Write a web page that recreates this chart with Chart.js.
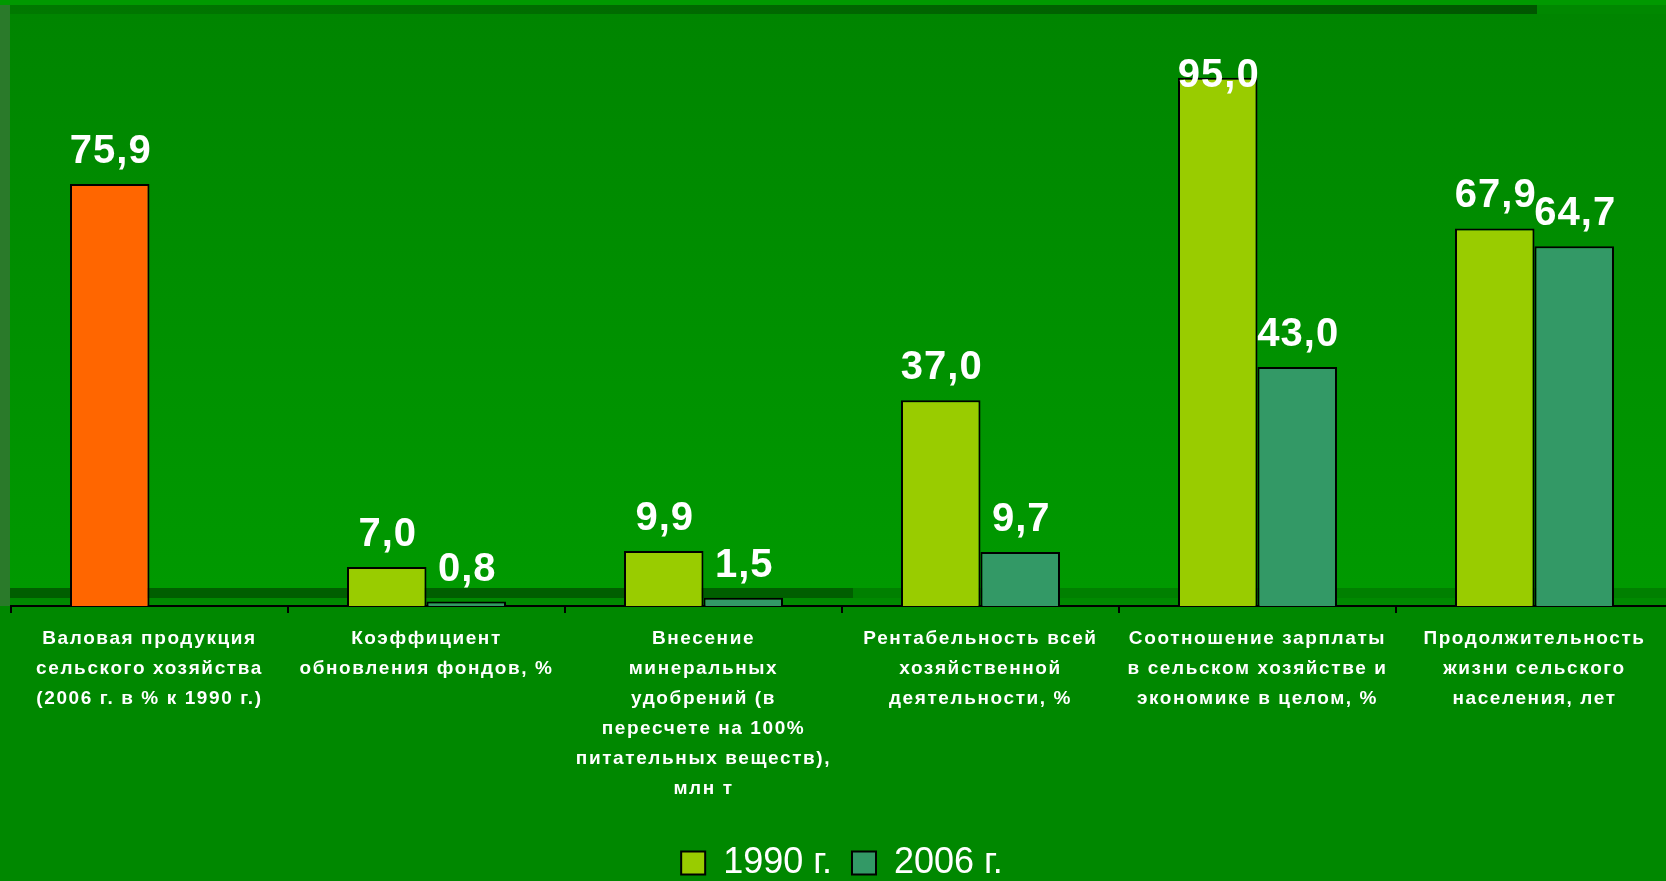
<!DOCTYPE html>
<html lang="ru">
<head>
    <meta charset="UTF-8">
    <title>Показатели сельского хозяйства</title>
    <script src="https://cdn.jsdelivr.net/npm/chart.js"></script>
    <style>
        html, body {
            margin: 0;
            padding: 0;
            width: 1666px;
            height: 881px;
            overflow: hidden;
            background: #008800;
            font-family: Arial, "Liberation Sans", sans-serif;
        }
        .deco { position: absolute; }
        #topStrip { left: 0; top: 0; width: 1666px; height: 5px; background: #009900; }
        #topBand { left: 10px; top: 5px; width: 1527px; height: 9px; background: linear-gradient(to right, #007900, #005600); }
        #leftStrip { left: 0; top: 5px; width: 10px; height: 601px; background: #2a7a2a; }
        #plotBg { left: 10px; top: 14px; width: 1656px; height: 574px; background: linear-gradient(to bottom, #008500, #009900); }
        #floorDark { left: 10px; top: 588px; width: 843px; height: 10px; background: #005f00; }
        #floorLight { left: 853px; top: 588px; width: 813px; height: 10px; background: #008000; }
        #floorBase { left: 10px; top: 598px; width: 1656px; height: 8px; background: #008a00; }
        #wrap { position: absolute; left: 0; top: 0; width: 1680px; height: 900px; }
    </style>
</head>
<body>
    <div class="deco" id="topStrip"></div>
    <div class="deco" id="plotBg"></div>
    <div class="deco" id="topBand"></div>
    <div class="deco" id="leftStrip"></div>
    <div class="deco" id="floorDark"></div>
    <div class="deco" id="floorLight"></div>
    <div class="deco" id="floorBase"></div>
    <div id="wrap"><canvas id="chartCanvas"></canvas></div>

    <script>
        // данные диаграммы
        const categories = [
            ['Валовая продукция', 'сельского хозяйства', '(2006 г. в % к 1990 г.)'],
            ['Коэффициент', 'обновления фондов, %'],
            ['Внесение', 'минеральных', 'удобрений (в', 'пересчете на 100%', 'питательных веществ),', 'млн т'],
            ['Рентабельность всей', 'хозяйственной', 'деятельности, %'],
            ['Соотношение зарплаты', 'в сельском хозяйстве и', 'экономике в целом, %'],
            ['Продолжительность', 'жизни сельского', 'населения, лет']
        ];
        const seriesNames = ['1990 г.', '2006 г.'];
        const values1990 = [75.9, 7.0, 9.9, 37.0, 95.0, 67.9];
        const values2006 = [null, 0.8, 1.5, 9.7, 43.0, 64.7];

        const LIME = '#99cc00';
        const TEAL = '#339966';
        const ORANGE = '#ff6600';
        const FONT = 'Arial, "Liberation Sans", sans-serif';

        // подписи значений над столбцами + разрядка подписей оси
        const valueLabels = {
            id: 'valueLabels',
            afterLayout(chart) {
                const sc = chart.scales.x;
                if (sc && !sc._spaced) {
                    const orig = sc.drawLabels.bind(sc);
                    sc.drawLabels = function(area) {
                        chart.ctx.save();
                        chart.ctx.letterSpacing = '1.6px';
                        orig(area);
                        chart.ctx.restore();
                    };
                    sc._spaced = true;
                }
            },
            afterDatasetsDraw(chart) {
                const ctx = chart.ctx;
                const top = chart.chartArea.top;
                ctx.save();
                ctx.fillStyle = '#ffffff';
                ctx.font = 'bold 40px ' + FONT;
                ctx.letterSpacing = '1px';
                ctx.textAlign = 'center';
                ctx.textBaseline = 'alphabetic';
                chart.data.datasets.forEach((ds, di) => {
                    const meta = chart.getDatasetMeta(di);
                    meta.data.forEach((bar, i) => {
                        const v = ds.data[i];
                        if (v === null || v === undefined) return;
                        const y = Math.max(bar.y - 21, top + 37);
                        ctx.fillText(v.toFixed(1).replace('.', ','), bar.x + 1, y);
                    });
                });
                ctx.restore();
            }
        };

        const ctx = document.getElementById('chartCanvas').getContext('2d');
        const chartInstance = new Chart(ctx, {
            type: 'bar',
            data: {
                labels: categories,
                datasets: [{
                    label: seriesNames[0],
                    data: values1990,
                    backgroundColor: values1990.map((v, i) => i === 0 ? ORANGE : LIME),
                    borderColor: '#000000',
                    borderWidth: 2
                }, {
                    label: seriesNames[1],
                    data: values2006,
                    backgroundColor: TEAL,
                    borderColor: '#000000',
                    borderWidth: 2
                }]
            },
            options: {
                responsive: true,
                maintainAspectRatio: false,
                animation: false,
                categoryPercentage: 0.574,
                barPercentage: 1.0,
                layout: {
                    padding: { top: 50, left: 11, right: 7, bottom: 9 }
                },
                plugins: {
                    tooltip: { enabled: false },
                    legend: {
                        display: true,
                        position: 'bottom',
                        labels: {
                            color: '#ffffff',
                            boxWidth: 24,
                            boxHeight: 23,
                            padding: 20,
                            font: { family: FONT, size: 36 },
                            generateLabels: function(chart) {
                                return [LIME, TEAL].map((c, i) => ({
                                    text: seriesNames[i],
                                    fillStyle: c,
                                    strokeStyle: '#000000',
                                    lineWidth: 2,
                                    fontColor: '#ffffff',
                                    datasetIndex: i,
                                    hidden: false
                                }));
                            }
                        }
                    }
                },
                scales: {
                    x: {
                        offset: true,
                        grid: {
                            display: true,
                            offset: true,
                            drawOnChartArea: false,
                            drawTicks: true,
                            tickLength: 7,
                            color: '#000000',
                            lineWidth: 2
                        },
                        border: { display: true, color: '#000000', width: 2 },
                        ticks: {
                            color: '#ffffff',
                            padding: 11,
                            maxRotation: 0,
                            autoSkip: false,
                            font: { family: FONT, size: 19, weight: 'bold', lineHeight: 1.58 }
                        },
                        afterFit: function(scale) {
                            scale.height = 219;
                        }
                    },
                    y: {
                        display: false,
                        min: 0,
                        max: 100
                    }
                }
            },
            plugins: [valueLabels]
        });
    </script>
</body>
</html>
